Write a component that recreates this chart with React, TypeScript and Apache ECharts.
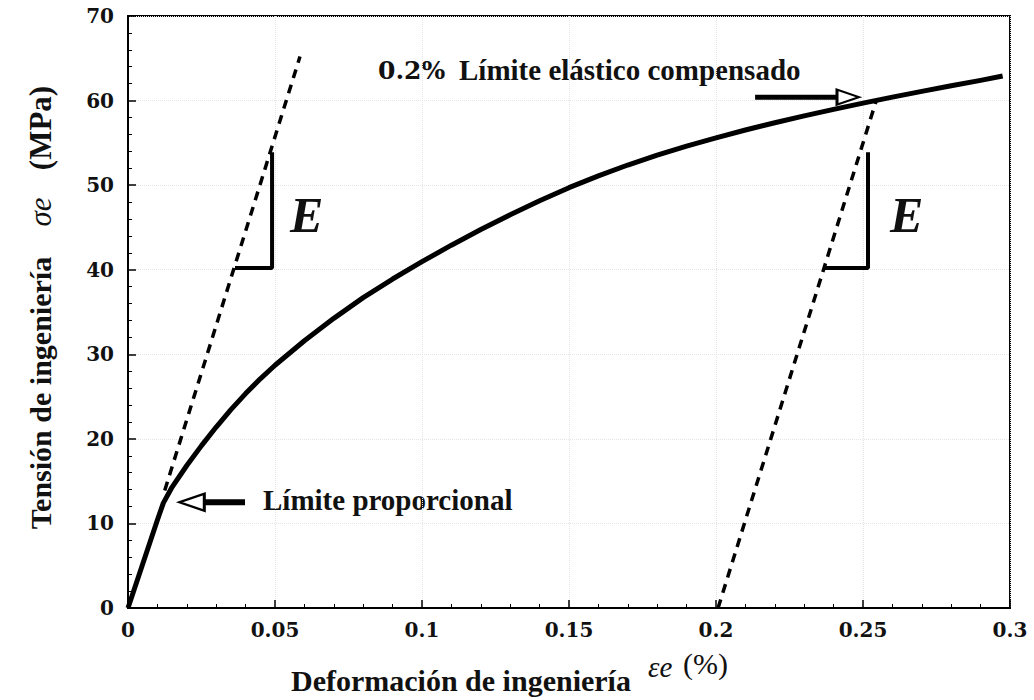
import React, { useEffect, useRef } from "react";
import * as echarts from "echarts";

// Stress-strain curve (engineering strain %, engineering stress MPa)
const strain = [0, 0.005, 0.01, 0.012, 0.015, 0.02, 0.025, 0.03, 0.035, 0.04, 0.045, 0.05, 0.06, 0.07, 0.08, 0.09, 0.1, 0.11, 0.12, 0.13, 0.14, 0.15, 0.16, 0.17, 0.18, 0.19, 0.2, 0.21, 0.22, 0.23, 0.24, 0.25, 0.26, 0.27, 0.28, 0.29, 0.2975];
const stress = [0, 5.2, 10.4, 12.4, 14.3, 16.85, 19.2, 21.4, 23.45, 25.35, 27.1, 28.7, 31.6, 34.25, 36.7, 38.9, 40.95, 42.9, 44.75, 46.5, 48.15, 49.7, 51.1, 52.38, 53.55, 54.62, 55.6, 56.52, 57.38, 58.19, 58.96, 59.7, 60.41, 61.09, 61.75, 62.39, 62.9];

const elasticLine = [[0.0125, 13.9], [0.0585, 65.2]];
const offsetLine = [[0.2007, 0], [0.2545, 60]];
const slopeMark1 = [[0.0364, 40.2], [0.049, 40.2], [0.049, 53.9]];
const slopeMark2 = [[0.237, 40.2], [0.2517, 40.2], [0.2517, 53.9]];
const arrow1Shaft = [[0.0258, 12.5], [0.0398, 12.5]];
const arrow1Head = [[0.0217, 12.5]];
const arrow2Shaft = [[0.2133, 60.4], [0.2415, 60.4]];
const arrow2Head = [[0.2449, 60.4]];

const xMin = 0, xMax = 0.3, xStep = 0.05;
const yMin = 0, yMax = 70, yStep = 10;

const SERIF = "'Liberation Serif', 'Times New Roman', serif";
const TICKFONT = "'DejaVu Serif', serif";

export default function App() {
  const ref = useRef<HTMLDivElement>(null);
  useEffect(() => {
    if (!ref.current) return;
    const chart = echarts.init(ref.current, null, { renderer: "svg" });
    const curve = strain.map((x, i) => [x, stress[i]]);
    const axisCommon = {
      axisLine: { show: true, lineStyle: { color: "#000", width: 2 } },
      axisTick: { show: true, inside: true, length: 8, lineStyle: { color: "#000", width: 1.5 } },
      minorTick: { show: true, splitNumber: 5, length: 4, lineStyle: { color: "#000", width: 1 } },
      splitLine: { show: true, lineStyle: { color: "#e4e4e4", type: "dotted", width: 1 } },
      axisLabel: { color: "#111", fontFamily: TICKFONT, fontWeight: "bold", fontSize: 20 },
    };
    const label = (x: number, y: number, text: string, extra: any) => ({
      type: "text", x, y, rotation: Math.PI / 2,
      style: { text, align: "center", verticalAlign: "middle", fill: "#111", fontFamily: SERIF, fontSize: 30, ...extra },
    });
    chart.setOption({
      animation: false,
      backgroundColor: "#fff",
      grid: { left: 128, right: 24, top: 16, bottom: 92, show: true, borderColor: "#000", borderWidth: 2, backgroundColor: "transparent" },
      xAxis: {
        type: "value", min: xMin, max: xMax, interval: xStep,
        ...axisCommon,
        axisLabel: { ...axisCommon.axisLabel, margin: 12, formatter: (v: number) => String(+v.toFixed(2)) },
      },
      yAxis: {
        type: "value", min: yMin, max: yMax, interval: yStep,
        ...axisCommon,
        axisLabel: { ...axisCommon.axisLabel, margin: 14 },
      },
      series: [
        { type: "line", data: curve, showSymbol: false, smooth: false, lineStyle: { color: "#000", width: 5, join: "round" }, z: 5 },
        { type: "line", data: elasticLine, showSymbol: false, lineStyle: { color: "#000", width: 3.5, type: [9, 7] } },
        { type: "line", data: offsetLine, showSymbol: false, lineStyle: { color: "#000", width: 3.5, type: [9, 7] } },
        { type: "line", data: slopeMark1, showSymbol: false, lineStyle: { color: "#000", width: 4 } },
        { type: "line", data: slopeMark2, showSymbol: false, lineStyle: { color: "#000", width: 4 } },
        { type: "line", data: arrow1Shaft, showSymbol: false, lineStyle: { color: "#000", width: 6 } },
        { type: "line", data: arrow2Shaft, showSymbol: false, lineStyle: { color: "#000", width: 5 } },
        { type: "scatter", data: arrow1Head, symbol: "triangle", symbolSize: [17, 25], symbolRotate: 90, itemStyle: { color: "#fff", borderColor: "#000", borderWidth: 2.5, opacity: 1 }, z: 6 },
        { type: "scatter", data: arrow2Head, symbol: "triangle", symbolSize: [15, 22], symbolRotate: -90, itemStyle: { color: "#fff", borderColor: "#000", borderWidth: 2.5, opacity: 1 }, z: 6 },
      ],
      graphic: [
        label(40, 393, "Tensión de ingeniería", { fontWeight: "bold" }),
        label(40, 212, "σe", { fontStyle: "italic", fontSize: 31 }),
        label(40, 128, "(MPa)", { fontWeight: "bold", fontSize: 31 }),
        {
          type: "text", x: 291, y: 680,
          style: { text: "Deformación de ingeniería", fontFamily: SERIF, fontWeight: "bold", fontSize: 30, fill: "#111", align: "left", verticalAlign: "middle" },
        },
        {
          type: "text", x: 648, y: 667,
          style: { text: "εe", fontFamily: SERIF, fontStyle: "italic", fontSize: 29, fill: "#111", align: "left", verticalAlign: "middle" },
        },
        {
          type: "text", x: 683, y: 663,
          style: { text: "(%)", fontFamily: SERIF, fontSize: 30, fill: "#111", align: "left", verticalAlign: "middle" },
        },
        {
          type: "text", x: 378, y: 70,
          style: { text: "0.2%", fontFamily: TICKFONT, fontWeight: "bold", fontSize: 25, fill: "#111", align: "left", verticalAlign: "middle" },
        },
        {
          type: "text", x: 459, y: 70,
          style: { text: "Límite elástico compensado", fontFamily: SERIF, fontWeight: "bold", fontSize: 29, fill: "#111", align: "left", verticalAlign: "middle" },
        },
        {
          type: "text", x: 263, y: 500,
          style: { text: "Límite proporcional", fontFamily: SERIF, fontWeight: "bold", fontSize: 29, fill: "#111", align: "left", verticalAlign: "middle" },
        },
        {
          type: "text", x: 290, y: 215,
          style: { text: "E", fontFamily: SERIF, fontWeight: "bold", fontStyle: "italic", fontSize: 50, fill: "#111", align: "left", verticalAlign: "middle" },
        },
        {
          type: "text", x: 890, y: 215,
          style: { text: "E", fontFamily: SERIF, fontWeight: "bold", fontStyle: "italic", fontSize: 50, fill: "#111", align: "left", verticalAlign: "middle" },
        },
      ],
    });
    return () => chart.dispose();
  }, []);
  return <div ref={ref} style={{ position: "absolute", left: 0, top: 0, width: 1034, height: 700 }} />;
}
